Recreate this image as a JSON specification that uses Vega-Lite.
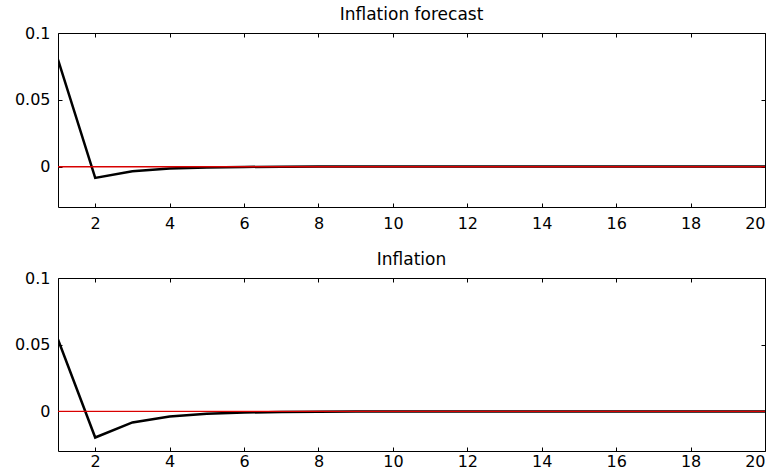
{
  "$schema": "https://vega.github.io/schema/vega-lite/v6.json",
  "padding": {"left": 11, "top": 5, "right": 5, "bottom": 0},
  "background": "white",
  "spacing": 18,
  "config": {
    "font": "DejaVu Sans",
    "view": {"stroke": "black", "strokeWidth": 1},
    "axis": {
      "grid": false,
      "title": null,
      "domain": false,
      "ticks": true,
      "tickColor": "black",
      "tickWidth": 1,
      "tickSize": 4,
      "offset": -4,
      "labelFont": "DejaVu Sans",
      "labelFontSize": 16,
      "labelColor": "black",
      "labelPadding": 8
    },
    "title": {"font": "DejaVu Sans", "fontSize": 17, "fontWeight": "normal", "color": "black", "anchor": "middle", "offset": 1}
  },
  "datasets": {
    "irf": [
      {"series": "Inflation forecast", "period": 1, "value": 0.08},
      {"series": "Inflation forecast", "period": 2, "value": -0.0085},
      {"series": "Inflation forecast", "period": 3, "value": -0.0035},
      {"series": "Inflation forecast", "period": 4, "value": -0.0015},
      {"series": "Inflation forecast", "period": 5, "value": -0.0007},
      {"series": "Inflation forecast", "period": 6, "value": -0.0003},
      {"series": "Inflation forecast", "period": 7, "value": -0.00013},
      {"series": "Inflation forecast", "period": 8, "value": -0.00006},
      {"series": "Inflation forecast", "period": 9, "value": -0.00003},
      {"series": "Inflation forecast", "period": 10, "value": -0.000013},
      {"series": "Inflation forecast", "period": 11, "value": -0.000006},
      {"series": "Inflation forecast", "period": 12, "value": -0.000003},
      {"series": "Inflation forecast", "period": 13, "value": -0.0000013},
      {"series": "Inflation forecast", "period": 14, "value": -0.0000006},
      {"series": "Inflation forecast", "period": 15, "value": -0.0000003},
      {"series": "Inflation forecast", "period": 16, "value": -0.0000001},
      {"series": "Inflation forecast", "period": 17, "value": -0.00000005},
      {"series": "Inflation forecast", "period": 18, "value": -0.00000002},
      {"series": "Inflation forecast", "period": 19, "value": -0.00000001},
      {"series": "Inflation forecast", "period": 20, "value": 0},
      {"series": "Inflation", "period": 1, "value": 0.054},
      {"series": "Inflation", "period": 2, "value": -0.0195},
      {"series": "Inflation", "period": 3, "value": -0.0082},
      {"series": "Inflation", "period": 4, "value": -0.0037},
      {"series": "Inflation", "period": 5, "value": -0.0017},
      {"series": "Inflation", "period": 6, "value": -0.0008},
      {"series": "Inflation", "period": 7, "value": -0.00037},
      {"series": "Inflation", "period": 8, "value": -0.00017},
      {"series": "Inflation", "period": 9, "value": -0.00008},
      {"series": "Inflation", "period": 10, "value": -0.000037},
      {"series": "Inflation", "period": 11, "value": -0.000017},
      {"series": "Inflation", "period": 12, "value": -0.000008},
      {"series": "Inflation", "period": 13, "value": -0.0000037},
      {"series": "Inflation", "period": 14, "value": -0.0000017},
      {"series": "Inflation", "period": 15, "value": -0.0000008},
      {"series": "Inflation", "period": 16, "value": -0.0000004},
      {"series": "Inflation", "period": 17, "value": -0.0000002},
      {"series": "Inflation", "period": 18, "value": -0.0000001},
      {"series": "Inflation", "period": 19, "value": -0.00000004},
      {"series": "Inflation", "period": 20, "value": 0}
    ]
  },
  "vconcat": [
    {
      "width": 707,
      "height": 174,
      "title": {"text": "Inflation forecast"},
      "data": {"name": "irf"},
      "transform": [{"filter": "datum.series === 'Inflation forecast'"}],
      "layer": [
        {
          "mark": {"type": "line", "color": "black", "strokeWidth": 2.5, "clip": true},
          "encoding": {
            "x": {"field": "period", "type": "quantitative", "scale": {"domain": [1, 20], "nice": false, "zero": false},
                  "axis": {"orient": "bottom", "values": [2, 4, 6, 8, 10, 12, 14, 16, 18, 20]}},
            "y": {"field": "value", "type": "quantitative", "scale": {"domain": [-0.0303, 0.1], "nice": false, "zero": false},
                  "axis": {"orient": "left", "values": [0, 0.05, 0.1], "format": "~g", "minExtent": 50, "maxExtent": 50}}
          }
        },
        {
          "mark": {"type": "rule", "color": "#d80000", "strokeWidth": 1},
          "encoding": {
            "x": {"datum": 1, "type": "quantitative", "axis": {"orient": "top", "values": [2, 4, 6, 8, 10, 12, 14, 16, 18, 20], "labels": false, "minExtent": 0, "maxExtent": 0}},
            "x2": {"datum": 20},
            "y": {"datum": 0, "type": "quantitative", "axis": {"orient": "right", "values": [0, 0.05, 0.1], "labels": false, "minExtent": 0, "maxExtent": 0}}
          }
        }
      ],
      "resolve": {"axis": {"x": "independent", "y": "independent"}}
    },
    {
      "width": 707,
      "height": 173,
      "title": {"text": "Inflation"},
      "data": {"name": "irf"},
      "transform": [{"filter": "datum.series === 'Inflation'"}],
      "layer": [
        {
          "mark": {"type": "line", "color": "black", "strokeWidth": 2.5, "clip": true},
          "encoding": {
            "x": {"field": "period", "type": "quantitative", "scale": {"domain": [1, 20], "nice": false, "zero": false},
                  "axis": {"orient": "bottom", "values": [2, 4, 6, 8, 10, 12, 14, 16, 18, 20], "labelPadding": 2}},
            "y": {"field": "value", "type": "quantitative", "scale": {"domain": [-0.0296, 0.1], "nice": false, "zero": false},
                  "axis": {"orient": "left", "values": [0, 0.05, 0.1], "format": "~g", "minExtent": 50, "maxExtent": 50}}
          }
        },
        {
          "mark": {"type": "rule", "color": "#d80000", "strokeWidth": 1},
          "encoding": {
            "x": {"datum": 1, "type": "quantitative", "axis": {"orient": "top", "values": [2, 4, 6, 8, 10, 12, 14, 16, 18, 20], "labels": false, "minExtent": 0, "maxExtent": 0}},
            "x2": {"datum": 20},
            "y": {"datum": 0, "type": "quantitative", "axis": {"orient": "right", "values": [0, 0.05, 0.1], "labels": false, "minExtent": 0, "maxExtent": 0}}
          }
        }
      ],
      "resolve": {"axis": {"x": "independent", "y": "independent"}}
    }
  ]
}
